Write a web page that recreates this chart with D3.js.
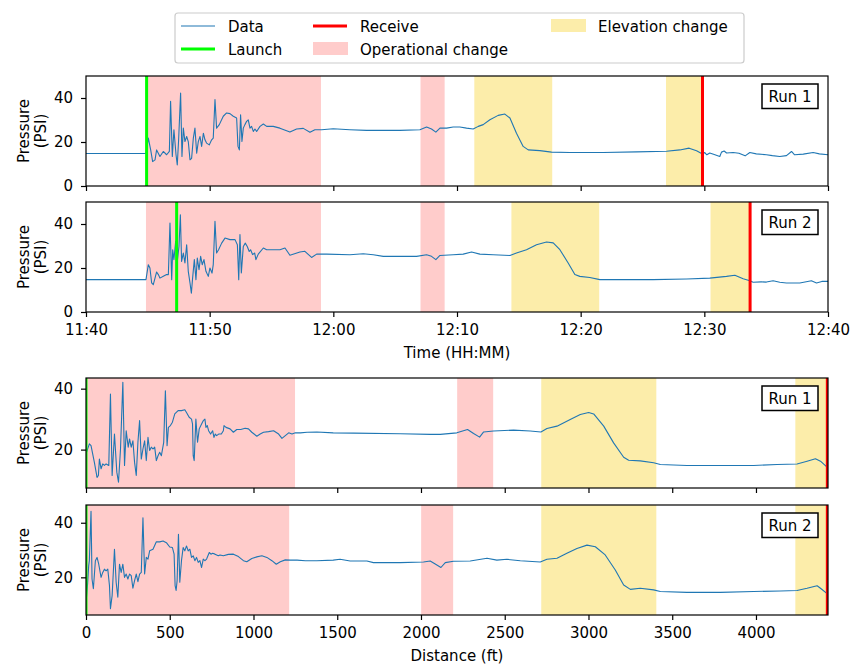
<!DOCTYPE html>
<html>
<head>
<meta charset="utf-8">
<script src="https://cdn.jsdelivr.net/npm/d3@7"></script>
<style>
  body { margin: 0; background: #fff; }
  text { font-family: "DejaVu Sans", sans-serif; }
</style>
</head>
<body>
<svg id="chart" width="851" height="665"></svg>
<script>
// ---- data ----
// time series: [minutes after 11:40, psi]
const timeRun1 = [
  [0,14.8],[4.85,14.8],[5.04,21.8],[5.23,16.4],[5.39,11.1],[5.58,11.9],[5.71,16.4],[5.98,13.4],[6.25,15.7],[6.52,14.2],
  [6.74,15.7],[6.84,38.5],[6.98,13.4],[7.11,25.6],[7.28,14.2],[7.38,9.6],[7.49,21.0],[7.65,42.3],[7.76,13.4],[7.87,26.3],
  [8.0,20.2],[8.14,22.5],[8.27,20.2],[8.41,11.9],[8.54,12.6],[8.68,21.8],[8.81,26.3],[8.95,14.9],[9.08,20.2],[9.22,22.5],
  [9.35,18.0],[9.49,24.0],[9.62,21.0],[9.75,19.5],[9.97,18.7],[10.16,21.0],[10.29,21.8],[10.43,39.3],[10.56,26.3],[10.78,27.9],
  [11.1,31.7],[11.37,33.2],[11.64,32.9],[11.91,31.7],[12.18,30.9],[12.29,18.0],[12.4,16.4],[12.5,32.4],[12.61,20.2],[12.72,26.3],
  [12.85,27.9],[12.99,29.4],[13.12,30.1],[13.26,26.3],[13.39,27.1],[13.53,24.8],[13.66,25.9],[13.8,24.8],[14.07,27.1],[14.34,28.2],
  [14.61,27.1],[15.14,27.1],[15.68,26.3],[16.22,25.1],[16.49,24.5],[17.03,25.9],[17.57,26.2],[18.11,24.4],[18.51,25.6],[19.05,25.6],
  [19.99,26.0],[21.34,25.6],[22.69,25.3],[25.38,25.3],[27.0,25.6],[27.54,26.8],[27.94,25.9],[28.29,24.5],[28.62,26.3],[29.16,26.3],
  [29.69,26.8],[30.23,26.8],[30.77,26.3],[31.31,25.9],[31.72,27.1],[32.12,27.9],[32.66,30.1],[33.33,32.1],[33.87,32.7],[34.28,30.9],
  [34.81,24.0],[35.35,18.0],[35.76,16.4],[36.7,16.1],[37.64,15.4],[39.13,15.2],[41.82,15.2],[44.52,15.5],[46.94,15.8],[48.02,16.4],
  [48.77,17.2],[49.37,16.0],[49.85,14.5],[50.04,15.2],[50.2,14.2],[50.44,15.0],[50.8,14.3],[51.25,13.4],[51.39,15.4],[51.6,15.9],
  [51.8,15.0],[52.33,15.2],[52.8,14.9],[53.3,13.7],[53.68,15.2],[54.2,14.6],[55.02,14.2],[55.5,13.8],[56.1,13.4],[56.64,13.8],
  [57.05,15.7],[57.3,14.2],[58.0,14.5],[58.8,15.2],[59.3,14.6],[60,14.2]
];
const timeRun2 = [
  [0,14.7],[4.85,14.7],[5.04,21.5],[5.17,20.0],[5.31,13.2],[5.44,12.4],[5.58,15.4],[5.71,18.2],[5.85,17.0],[5.98,15.4],
  [6.25,16.2],[6.52,17.0],[6.66,17.0],[6.79,40.4],[6.93,14.7],[7.01,28.3],[7.11,23.8],[7.25,32.1],[7.38,23.0],[7.52,29.8],
  [7.63,44.2],[7.73,23.0],[7.87,26.8],[8.0,22.3],[8.14,30.6],[8.27,18.5],[8.41,13.2],[8.52,8.6],[8.62,15.4],[8.76,23.8],
  [8.89,14.7],[9.0,24.5],[9.14,19.2],[9.27,25.3],[9.4,21.5],[9.54,23.8],[9.7,18.5],[9.89,16.2],[10.02,20.0],[10.19,17.7],
  [10.29,21.5],[10.43,41.2],[10.56,26.8],[10.72,28.3],[10.97,31.3],[11.24,33.6],[11.64,32.9],[12.05,32.9],[12.24,30.6],[12.35,14.7],
  [12.45,35.2],[12.56,17.7],[12.72,29.8],[12.88,31.3],[13.04,29.8],[13.2,27.5],[13.31,28.3],[13.47,26.1],[13.64,26.8],[13.74,23.8],
  [13.93,26.3],[14.34,29.1],[14.61,28.3],[15.14,28.3],[15.68,28.3],[16.09,29.1],[16.49,25.8],[17.3,27.3],[17.7,27.6],[18.24,24.8],
  [18.65,26.3],[19.46,26.3],[21.34,26.0],[22.42,26.5],[23.23,26.0],[24.04,25.3],[26.73,25.3],[27.54,26.0],[27.94,25.3],[28.29,23.8],
  [28.62,25.7],[29.69,26.0],[30.5,26.3],[31.18,27.3],[31.85,26.3],[32.93,26.0],[34.28,25.7],[34.81,26.8],[35.62,28.3],[36.43,30.6],
  [37.24,31.8],[37.78,31.4],[38.32,28.3],[38.99,22.3],[39.53,17.0],[39.93,16.2],[40.74,15.7],[41.55,14.7],[43.17,14.7],[45.86,14.7],
  [48.56,15.0],[50.44,15.4],[51.79,16.2],[52.47,16.7],[53.14,15.1],[53.68,14.2],[53.95,13.5],[54.6,13.7],[55.02,13.6],[55.56,14.2],
  [56.1,13.5],[56.64,13.2],[57.72,13.2],[58.66,14.2],[59.07,13.2],[59.5,13.9],[60,13.9]
];
// distance series: [ft, psi]
const distRun1 = [
  [0,18.6],[20,21.9],[30,21.3],[50,15.8],[66,10.9],[74,11.5],[80,16.9],[90,13.7],[100,15.3],[110,14.8],
  [120,15.3],[136,14.8],[146,38.2],[156,11.5],[170,25.1],[184,12.6],[194,9.3],[206,20.2],[220,42.1],[230,14.8],
  [240,26.2],[252,20.8],[260,23.5],[270,20.8],[280,22.9],[290,15.8],[300,11.5],[310,22.4],[320,29.5],[330,16.9],
  [340,20.2],[350,22.9],[360,16.4],[370,24.0],[380,19.7],[390,20.8],[400,20.2],[410,20.8],[420,16.4],[430,18.0],
  [440,19.1],[450,18.0],[464,22.4],[474,39.3],[484,21.3],[492,27.3],[504,27.9],[516,29.0],[530,31.7],[550,32.8],
  [570,32.8],[590,33.1],[600,32.2],[616,30.6],[630,30.0],[636,28.4],[640,18.0],[646,16.4],[656,30.0],[666,22.4],
  [676,26.8],[690,28.4],[700,29.5],[710,30.0],[716,27.3],[724,27.9],[732,26.2],[744,25.1],[756,26.2],[764,24.0],
  [772,25.1],[780,24.6],[792,25.1],[808,25.1],[820,26.2],[824,27.9],[836,27.3],[860,26.8],[880,25.7],[900,26.6],
  [924,26.6],[950,27.0],[970,26.8],[990,25.7],[1020,24.4],[1040,25.1],[1060,25.7],[1090,25.9],[1120,26.2],[1150,25.1],
  [1170,23.7],[1190,24.6],[1210,25.5],[1230,25.1],[1250,25.5],[1280,25.5],[1320,25.7],[1378,25.8],[1476,25.5],[1600,25.4],
  [1876,25.2],[2055,25.0],[2115,25.0],[2214,25.5],[2278,26.6],[2314,25.3],[2350,24.1],[2374,25.8],[2433,26.1],[2553,26.4],
  [2652,26.1],[2716,25.8],[2752,26.9],[2812,27.7],[2891,29.9],[2951,31.5],[3001,32.2],[3031,31.7],[3091,27.7],[3150,22.2],
  [3210,17.5],[3240,16.5],[3309,16.3],[3389,15.7],[3429,15.1],[3588,14.8],[3787,14.8],[3986,14.8],[4126,15.1],[4245,15.3],
  [4305,16.2],[4355,17.0],[4385,16.2],[4421,14.4]
];
const distRun2 = [
  [0,10.5],[10,18.0],[16,24.2],[20,26.1],[30,44.2],[36,19.4],[44,15.8],[56,26.1],[66,27.3],[76,24.8],
  [90,20.0],[100,21.8],[110,23.0],[120,22.4],[130,23.0],[140,17.0],[146,8.5],[156,13.3],[170,30.3],[180,18.2],
  [190,12.7],[200,24.8],[210,21.8],[220,24.8],[230,20.0],[240,21.2],[250,19.4],[260,21.2],[270,20.6],[280,16.0],
  [290,18.8],[300,21.2],[310,18.4],[320,21.2],[330,21.8],[340,41.8],[350,21.2],[360,27.3],[370,26.7],[380,29.7],
  [400,30.3],[420,33.0],[440,33.0],[460,33.3],[480,32.7],[500,31.1],[516,30.9],[526,28.5],[532,17.0],[538,15.2],
  [544,18.8],[552,35.8],[560,18.2],[570,26.1],[580,30.9],[590,29.7],[600,31.5],[610,29.7],[620,30.3],[630,27.3],
  [640,27.9],[650,26.1],[660,27.3],[670,25.5],[680,26.1],[690,23.6],[700,26.7],[710,26.1],[720,26.7],[736,29.1],
  [746,28.5],[756,28.8],[770,28.5],[790,27.9],[800,28.2],[820,27.9],[850,28.4],[880,28.5],[910,27.6],[940,26.1],
  [960,25.7],[990,26.9],[1020,27.5],[1050,27.9],[1080,27.3],[1110,26.1],[1136,24.8],[1160,25.7],[1190,26.4],[1219,26.3],
  [1260,26.3],[1310,26.1],[1378,26.1],[1476,26.3],[1517,26.6],[1577,26.0],[1677,26.0],[1716,25.4],[1876,25.4],[2015,25.6],
  [2055,26.0],[2085,24.9],[2119,23.6],[2145,25.4],[2194,25.9],[2294,26.0],[2394,27.0],[2453,26.3],[2513,26.6],[2593,26.1],
  [2712,25.6],[2752,26.6],[2812,27.0],[2871,28.8],[2931,30.6],[2991,31.8],[3041,31.2],[3100,28.2],[3160,22.7],[3210,17.2],
  [3250,15.6],[3309,16.0],[3389,15.4],[3429,14.8],[3588,14.5],[3787,14.5],[3986,14.8],[4146,15.0],[4245,15.2],[4305,16.0],
  [4365,16.9],[4385,16.0],[4421,14.2]
];

// shaded spans and event markers
const opTime1 = [[4.9, 19.0], [27.05, 29.0]];
const elevTime1 = [[31.4, 37.7], [46.9, 49.85]];
const opTime2 = [[4.85, 19.0], [27.05, 29.0]];
const elevTime2 = [[34.4, 41.5], [50.5, 53.7]];
const launchTime = [4.9, 7.33];
const receiveTime = [49.85, 53.7];

const opDist1 = [[0, 1248], [2216, 2431]];
const elevDist1 = [[2718, 3405], [4235, 4426]];
const opDist2 = [[0, 1213], [2001, 2192]];
const elevDist2 = [[2718, 3405], [4235, 4426]];
const launchDist = [0, 0];
const receiveDist = [4426, 4426];

const timeTicks = ['11:40', '11:50', '12:00', '12:10', '12:20', '12:30', '12:40'];
const distTicks = [0, 500, 1000, 1500, 2000, 2500, 3000, 3500, 4000];
const runLabels = ['Run 1', 'Run 2'];

// ---- drawing ----
const svg = d3.select('#chart');
const left = 86, right = 828;
const colors = { data: '#1f77b4', launch: '#00ff00', receive: '#ff0000', op: '#ffcccb', elev: '#fcedaa' };

const base = new Date(2020, 0, 1, 11, 40);
const toDate = m => new Date(base.getTime() + m * 60000);
const parseHM = d3.timeParse('%H:%M');
const tickDates = timeTicks.map(t => { const d = parseHM(t); return new Date(2020, 0, 1, d.getHours(), d.getMinutes()); });

const xTime = d3.scaleTime().domain([toDate(0), toDate(60)]).range([left, right]);
const xDist = d3.scaleLinear().domain([0, 4430]).range([left, right]);

const panels = [
  { top: 76, bottom: 186, x: xTime, conv: toDate, yDom: [0, 50], yTicks: [0, 20, 40], data: timeRun1,
    op: opTime1, elev: elevTime1, launch: launchTime[0], receive: receiveTime[0], label: runLabels[0], xLabels: false },
  { top: 202, bottom: 312, x: xTime, conv: toDate, yDom: [0, 50], yTicks: [0, 20, 40], data: timeRun2,
    op: opTime2, elev: elevTime2, launch: launchTime[1], receive: receiveTime[1], label: runLabels[1], xLabels: true },
  { top: 378, bottom: 488, x: xDist, conv: d => d, yDom: [7.4, 43.5], yTicks: [20, 40], data: distRun1,
    op: opDist1, elev: elevDist1, launch: launchDist[0], receive: receiveDist[0], label: runLabels[0], xLabels: false },
  { top: 505, bottom: 615, x: xDist, conv: d => d, yDom: [6.2, 46.5], yTicks: [20, 40], data: distRun2,
    op: opDist2, elev: elevDist2, launch: launchDist[1], receive: receiveDist[1], label: runLabels[1], xLabels: true }
];

panels.forEach((p, i) => {
  const y = d3.scaleLinear().domain(p.yDom).range([p.bottom, p.top]);
  const g = svg.append('g');
  const clipId = 'clip' + i;
  svg.append('clipPath').attr('id', clipId)
    .append('rect').attr('x', left).attr('y', p.top).attr('width', right - left).attr('height', p.bottom - p.top);

  const inner = g.append('g').attr('clip-path', `url(#${clipId})`);
  inner.selectAll('rect.op').data(p.op).join('rect')
    .attr('x', d => p.x(p.conv(d[0]))).attr('width', d => p.x(p.conv(d[1])) - p.x(p.conv(d[0])))
    .attr('y', p.top).attr('height', p.bottom - p.top).attr('fill', colors.op);
  inner.selectAll('rect.elev').data(p.elev).join('rect')
    .attr('x', d => p.x(p.conv(d[0]))).attr('width', d => p.x(p.conv(d[1])) - p.x(p.conv(d[0])))
    .attr('y', p.top).attr('height', p.bottom - p.top).attr('fill', colors.elev);

  inner.append('path').datum(p.data)
    .attr('fill', 'none').attr('stroke', colors.data).attr('stroke-width', 1.1).attr('stroke-linejoin', 'round')
    .attr('d', d3.line().x(d => p.x(p.conv(d[0]))).y(d => y(d[1])));

  [[p.launch, colors.launch], [p.receive, colors.receive]].forEach(([v, c]) => {
    inner.append('line').attr('x1', p.x(p.conv(v))).attr('x2', p.x(p.conv(v)))
      .attr('y1', p.top).attr('y2', p.bottom).attr('stroke', c).attr('stroke-width', 3);
  });

  // axes
  const xAxis = (p.x === xTime)
    ? d3.axisBottom(xTime).tickValues(tickDates).tickFormat(d3.timeFormat('%H:%M'))
    : d3.axisBottom(xDist).tickValues(distTicks).tickFormat(d3.format('d'));
  xAxis.tickSize(5).tickPadding(7);
  if (!p.xLabels) xAxis.tickFormat('');
  const gx = g.append('g').attr('transform', `translate(0,${p.bottom})`).call(xAxis);
  const gy = g.append('g').attr('transform', `translate(${left},0)`)
    .call(d3.axisLeft(y).tickValues(p.yTicks).tickSize(5).tickPadding(8));
  [gx, gy].forEach(a => {
    a.select('.domain').remove();
    a.selectAll('line').attr('stroke', '#000').attr('stroke-width', 1.2);
    a.selectAll('text').attr('font-size', 15).attr('fill', '#000').attr('font-family', '"DejaVu Sans", sans-serif');
  });

  // frame
  g.append('rect').attr('x', left).attr('y', p.top).attr('width', right - left).attr('height', p.bottom - p.top)
    .attr('fill', 'none').attr('stroke', '#000').attr('stroke-width', 1.2);

  // y label
  const cy = (p.top + p.bottom) / 2;
  const yl = g.append('text').attr('transform', `translate(0,${cy}) rotate(-90)`)
    .attr('text-anchor', 'middle').attr('font-size', 15);
  yl.append('tspan').attr('x', 0).attr('y', 29).text('Pressure');
  yl.append('tspan').attr('x', 0).attr('y', 46).text('(PSI)');

  // run label box
  g.append('rect').attr('x', 762).attr('y', p.top + 8).attr('width', 56).attr('height', 24.5)
    .attr('fill', '#fff').attr('stroke', '#000').attr('stroke-width', 1.5);
  g.append('text').attr('x', 790).attr('y', p.top + 25.5).attr('text-anchor', 'middle')
    .attr('font-size', 15).text(p.label);
});

svg.append('text').attr('x', 457).attr('y', 358).attr('text-anchor', 'middle').attr('font-size', 15).text('Time (HH:MM)');
svg.append('text').attr('x', 457).attr('y', 661).attr('text-anchor', 'middle').attr('font-size', 15).text('Distance (ft)');

// legend
const legend = svg.append('g');
legend.append('rect').attr('x', 175).attr('y', 13).attr('width', 569).attr('height', 50).attr('rx', 3)
  .attr('fill', '#fff').attr('stroke', '#cccccc').attr('stroke-width', 1.2);
const legendItems = [
  { label: 'Data', type: 'line', color: colors.data, w: 1.1, x: 181, y: 26 },
  { label: 'Launch', type: 'line', color: colors.launch, w: 3, x: 181, y: 49 },
  { label: 'Receive', type: 'line', color: colors.receive, w: 3, x: 313, y: 26 },
  { label: 'Operational change', type: 'patch', color: colors.op, x: 313, y: 49 },
  { label: 'Elevation change', type: 'patch', color: colors.elev, x: 551, y: 26 }
];
legendItems.forEach(it => {
  if (it.type === 'line') {
    legend.append('line').attr('x1', it.x).attr('x2', it.x + 34).attr('y1', it.y).attr('y2', it.y)
      .attr('stroke', it.color).attr('stroke-width', it.w);
  } else {
    legend.append('rect').attr('x', it.x).attr('y', it.y - 7).attr('width', 35).attr('height', 13).attr('fill', it.color);
  }
  legend.append('text').attr('x', it.x + 47).attr('y', it.y + 5.5).attr('font-size', 15).text(it.label);
});
</script>
</body>
</html>
